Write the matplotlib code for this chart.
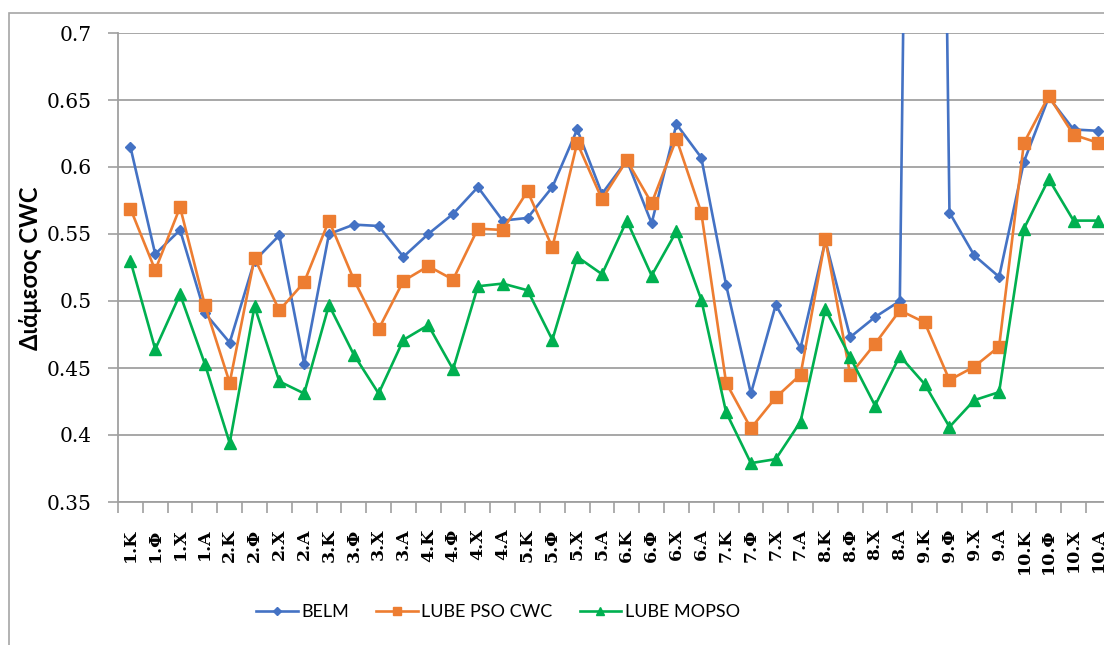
import numpy as np
import matplotlib
matplotlib.use('Agg')
import matplotlib.pyplot as plt
from matplotlib.ticker import FixedLocator, NullFormatter

# κατηγορίες: 10 ομάδες x 4 περιπτώσεις
kat = ['1.Κ', '1.Φ', '1.Χ', '1.Α', '2.Κ', '2.Φ', '2.Χ', '2.Α',
       '3.Κ', '3.Φ', '3.Χ', '3.Α', '4.Κ', '4.Φ', '4.Χ', '4.Α',
       '5.Κ', '5.Φ', '5.Χ', '5.Α', '6.Κ', '6.Φ', '6.Χ', '6.Α',
       '7.Κ', '7.Φ', '7.Χ', '7.Α', '8.Κ', '8.Φ', '8.Χ', '8.Α',
       '9.Κ', '9.Φ', '9.Χ', '9.Α', '10.Κ', '10.Φ', '10.Χ', '10.Α']

belm = [0.615, 0.535, 0.553, 0.491, 0.469, 0.530, 0.549, 0.453,
        0.550, 0.557, 0.556, 0.533, 0.550, 0.565, 0.585, 0.560,
        0.562, 0.585, 0.628, 0.580, 0.605, 0.558, 0.632, 0.607,
        0.512, 0.431, 0.497, 0.465, 0.545, 0.473, 0.488, 0.500,
        2.000, 0.566, 0.534, 0.518, 0.604, 0.652, 0.628, 0.627]

lube_pso = [0.569, 0.523, 0.570, 0.497, 0.439, 0.532, 0.493, 0.514,
            0.560, 0.516, 0.479, 0.515, 0.526, 0.516, 0.554, 0.553,
            0.582, 0.540, 0.618, 0.576, 0.605, 0.573, 0.621, 0.566,
            0.439, 0.405, 0.428, 0.445, 0.546, 0.445, 0.468, 0.493,
            0.484, 0.441, 0.451, 0.466, 0.618, 0.653, 0.624, 0.618]

lube_mopso = [0.530, 0.464, 0.505, 0.453, 0.394, 0.496, 0.440, 0.431,
              0.497, 0.460, 0.431, 0.471, 0.482, 0.449, 0.511, 0.513,
              0.508, 0.471, 0.533, 0.520, 0.560, 0.519, 0.552, 0.501,
              0.417, 0.379, 0.382, 0.410, 0.494, 0.458, 0.422, 0.459,
              0.438, 0.406, 0.426, 0.432, 0.554, 0.591, 0.560, 0.560]

yticks = [0.35, 0.4, 0.45, 0.5, 0.55, 0.6, 0.65, 0.7]
ytick_labels = ['0.35', '0.4', '0.45', '0.5', '0.55', '0.6', '0.65', '0.7']

fig = plt.figure(figsize=(11.04, 6.45), dpi=100)
ax = fig.add_axes([118 / 1104, 1 - 502 / 645, 1 - 118 / 1104, (502 - 33) / 645])

x = np.arange(len(kat))
ax.plot(x, belm, color='#4472C4', lw=1.9, marker='D', ms=5.5, label='BELM', zorder=3)
ax.plot(x, lube_pso, color='#ED7D31', lw=1.9, marker='s', ms=8, label='LUBE PSO CWC', zorder=4)
ax.plot(x, lube_mopso, color='#00B050', lw=1.9, marker='^', ms=8, label='LUBE MOPSO', zorder=5)

ax.set_ylim(0.35, 0.7)
ax.set_xlim(-0.5, -0.5 + 986 / 24.82)

ax.set_yticks(yticks)
ax.set_yticklabels(ytick_labels, family='DejaVu Serif', fontsize=14.5)
ax.tick_params(axis='y', length=7, width=1.2, color='#a0a0a0', pad=12)

ax.set_xticks(x)
ax.set_xticklabels(kat, rotation=90, family='DejaVu Serif', fontsize=12.5,
                   fontweight='bold', va='top')
ax.xaxis.set_minor_locator(FixedLocator(np.arange(len(kat) + 1) - 0.5))
ax.xaxis.set_minor_formatter(NullFormatter())
ax.tick_params(axis='x', which='major', length=0, pad=19)
ax.tick_params(axis='x', which='minor', length=8, width=1.2, color='#a0a0a0')

ax.grid(axis='y', color='#a0a0a0', lw=1.3)
ax.set_axisbelow(True)
for s in ['top', 'right']:
    ax.spines[s].set_visible(False)
for s in ['left', 'bottom']:
    ax.spines[s].set_color('#a0a0a0')
    ax.spines[s].set_linewidth(1.3)

# τίτλος άξονα y
fig.text(30 / 1104, 1 - 268 / 645, 'Διάμεσος CWC', rotation=90, ha='center', va='center',
         family=['Lato', 'DejaVu Sans'], fontweight='bold', fontsize=17)

leg = fig.legend(loc='center', bbox_to_anchor=(498 / 1104, 1 - 612 / 645), ncol=3, frameon=False,
                 prop={'family': ['Lato', 'DejaVu Sans'], 'size': 13},
                 handlelength=2.3, handletextpad=0.2, columnspacing=1.5, markerscale=0.7)

# πλαίσιο γύρω από το γράφημα
fig.patches.append(plt.Rectangle((9 / 1104, -0.2), 1.2, 1.2 - 13 / 645, transform=fig.transFigure,
                                 fill=False, edgecolor='#a6a6a6', lw=1.2))

plt.savefig('out.png', dpi=100)
